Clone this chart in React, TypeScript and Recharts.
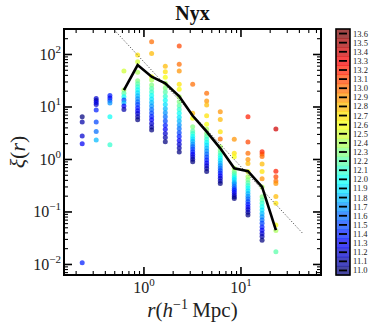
import React from "react";
import { ScatterChart, Scatter, XAxis, YAxis } from "recharts";

// pair separation bins (h^-1 Mpc)
const rBins = [0.231, 0.322, 0.446, 0.622, 0.861, 1.2, 1.66, 2.31, 3.18, 4.43, 6.12, 8.53, 11.8, 16.5, 22.9];

// log10 halo mass of each point, per r bin
const massByBin: number[][] = [
  [11.0, 11.1, 11.2, 11.3, 11.4],
  [11.2, 11.1, 11.3, 11.2, 11.4, 11.5, 11.6, 11.8],
  [11.4, 11.3, 11.5, 11.7, 12.0, 12.1],
  [12.5, 12.4, 12.2, 12.0, 11.5, 11.8, 11.3, 11.1],
  [12.7, 12.5, 12.4, 12.3, 12.2, 12.1, 12.0, 11.9, 11.8, 11.7, 11.6, 11.5, 11.4, 11.3, 11.2, 11.1, 11.0],
  [13.0, 12.8, 12.6, 12.4, 12.3, 12.2, 12.1, 12.0, 11.9, 11.8, 11.7, 11.6, 11.5, 11.4, 11.3, 11.2, 11.1, 11.0],
  [12.8, 12.7, 12.6, 12.4, 12.3, 12.2, 12.1, 12.0, 11.9, 11.8, 11.7, 11.6, 11.5, 11.4, 11.3, 11.2, 11.1, 11.0],
  [13.1, 13.0, 12.9, 12.7, 12.6, 12.4, 12.3, 12.2, 12.1, 12.0, 11.9, 11.8, 11.7, 11.6, 11.5, 11.4, 11.3, 11.2, 11.1, 11.0],
  [13.0, 12.8, 12.6, 12.3, 12.2, 12.1, 12.0, 11.9, 11.8, 11.7, 11.6, 11.5, 11.4, 11.3, 11.2, 11.1, 11.0],
  [13.0, 12.9, 12.8, 12.7, 12.6, 12.4, 12.3, 12.2, 12.1, 12.0, 11.9, 11.8, 11.7, 11.6, 11.5, 11.4, 11.3, 11.2, 11.1, 11.0],
  [12.9, 12.8, 12.7, 13.0, 12.4, 12.3, 12.2, 12.1, 12.0, 11.9, 11.8, 11.7, 11.6, 11.5, 11.4, 11.3, 11.2, 11.1, 11.0],
  [12.9, 12.7, 12.6, 12.4, 12.3, 12.2, 12.1, 12.0, 11.9, 11.8, 11.7, 11.6, 11.5, 11.4, 11.3, 11.2, 11.1, 11.0],
  [13.2, 13.1, 13.0, 12.9, 12.8, 12.6, 12.4, 12.3, 12.2, 12.1, 12.0, 11.9, 11.8, 11.7, 11.6, 11.5, 11.4, 11.3, 11.2, 11.1, 11.0],
  [13.2, 13.1, 13.0, 12.8, 12.7, 12.9, 12.4, 12.3, 12.2, 12.1, 12.0, 11.9, 11.8, 11.7, 11.6, 11.5, 11.4, 11.3, 11.2, 11.1, 11.0],
  [13.4, 13.2, 13.1, 13.0, 12.9, 12.8, 12.7, 12.6, 12.4, 12.2],
];

// xi(r) of each point, same order as massByBin
const xiByBin: number[][] = [
  [6.5, 5.2, 2.8, 2.0, 0.0108],
  [14.5, 13.3, 12.2, 11.2, 8.8, 5.2, 3.4, 2.35],
  [16.6, 14.8, 13.3, 11.9, 6.5, 1.9],
  [48.5, 21.1, 18.2, 15.7, 13.6, 12.1, 10.4, 9.0],
  [98, 73, 46, 31.7, 27.8, 24.4, 21.4, 18.7, 16.4, 14.4, 12.6, 11.1, 9.7, 8.5, 7.5, 6.5, 5.7],
  [175, 105, 37.8, 32.7, 26.3, 22.5, 19.3, 16.6, 14.2, 12.2, 10.4, 9.0, 7.7, 6.6, 5.7, 4.85, 4.16, 3.65],
  [60, 47, 36.8, 28.3, 23.0, 19.2, 16.0, 13.4, 11.2, 9.3, 7.8, 6.5, 5.4, 4.5, 3.76, 3.14, 2.62, 2.18],
  [145, 65, 48.5, 27, 21.7, 15.7, 12.6, 10.6, 9.0, 7.6, 6.4, 5.4, 4.56, 3.85, 3.24, 2.74, 2.31, 1.95, 1.65, 1.39],
  [27, 7.6, 6.1, 4.2, 3.49, 3.11, 2.78, 2.49, 2.22, 1.98, 1.77, 1.58, 1.41, 1.26, 1.13, 1.01, 0.91],
  [18.2, 13, 10.9, 6.8, 4.68, 3.76, 3.16, 2.77, 2.44, 2.14, 1.88, 1.65, 1.45, 1.27, 1.12, 0.98, 0.86, 0.76, 0.67, 0.59],
  [8.1, 5.8, 3.39, 2.46, 1.75, 1.52, 1.35, 1.21, 1.08, 0.97, 0.86, 0.77, 0.69, 0.62, 0.55, 0.49, 0.44, 0.39, 0.35],
  [2.43, 1.31, 1.13, 0.68, 0.59, 0.54, 0.49, 0.45, 0.41, 0.37, 0.34, 0.31, 0.28, 0.26, 0.235, 0.214, 0.195, 0.18],
  [6.5, 2.15, 1.31, 1.0, 0.84, 0.59, 0.47, 0.41, 0.36, 0.32, 0.285, 0.253, 0.225, 0.2, 0.178, 0.158, 0.141, 0.125, 0.111, 0.099, 0.088],
  [1.41, 1.27, 1.14, 0.82, 0.59, 0.43, 0.3, 0.195, 0.169, 0.147, 0.126, 0.109, 0.094, 0.081, 0.07, 0.061, 0.052, 0.045, 0.039, 0.034, 0.029],
  [3.81, 0.6, 0.47, 0.39, 0.35, 0.197, 0.147, 0.0565, 0.0444, 0.0175],
];

// mean relation (black line), starts at the 4th bin
const meanR = rBins.slice(3);
const meanXi = [21, 63, 37.8, 28.3, 16, 6.8, 3.39, 1.63, 0.68, 0.6, 0.3, 0.045];

// reference power law (dotted)
const plawR = [0.514, 43.3];
const plawXi = [272, 0.039];

const xTicks = [0.2, 0.3, 0.4, 0.5, 0.6, 0.7, 0.8, 0.9, 1, 2, 3, 4, 5, 6, 7, 8, 9, 10, 20, 30, 40, 50, 60];
const yTicks = [
  0.007, 0.008, 0.009, 0.01, 0.02, 0.03, 0.04, 0.05, 0.06, 0.07, 0.08, 0.09, 0.1, 0.2, 0.3, 0.4, 0.5, 0.6, 0.7,
  0.8, 0.9, 1, 2, 3, 4, 5, 6, 7, 8, 9, 10, 20, 30, 40, 50, 60, 70, 80, 90, 100, 200, 300,
];
const cbarLabels = [11.0, 11.1, 11.2, 11.3, 11.4, 11.5, 11.6, 11.7, 11.8, 11.9, 12.0, 12.1, 12.2, 12.3, 12.4, 12.5, 12.6, 12.7, 12.8, 12.9, 13.0, 13.1, 13.2, 13.3, 13.4, 13.5, 13.6];

const W = 374;
const H = 328;
const PLOT = { left: 64, top: 29, width: 257, height: 246 };
const CB = { x: 336, y: 29, w: 14, h: 246 };
const SERIF = "'Liberation Serif', 'DejaVu Serif', serif";
const ALPHA = 0.72;

function jet(m: number) {
  const t = (m - 11.0) / 2.6;
  const c = (v: number) => Math.round(255 * Math.max(0, Math.min(1, v)));
  return `rgb(${c(1.5 - Math.abs(4 * t - 3))},${c(1.5 - Math.abs(4 * t - 2))},${c(1.5 - Math.abs(4 * t - 1))})`;
}

const points = rBins.flatMap((r, i) => xiByBin[i].map((xi, j) => ({ r, xi, m: massByBin[i][j] })));
const meanData = meanR.map((r, i) => ({ r, xi: meanXi[i] }));
const plawData = plawR.map((r, i) => ({ r, xi: plawXi[i] }));

const isMajor = (v: number) => Math.abs(Math.log10(v) - Math.round(Math.log10(v))) < 1e-6;
const expLabel = (v: number) => {
  const e = Math.round(Math.log10(v));
  return e < 0 ? `\u2212${-e}` : `${e}`;
};

function XTick({ x, y, payload }: any) {
  const v = payload.value;
  const major = isMajor(v);
  const len = major ? 8 : 4;
  const sw = major ? 1.6 : 1.1;
  const top = y - PLOT.height;
  return (
    <g>
      <line x1={x} x2={x} y1={y} y2={y - len} stroke="#000" strokeWidth={sw} />
      <line x1={x} x2={x} y1={top} y2={top + len} stroke="#000" strokeWidth={sw} />
      {major && (
        <text x={x} y={y + 18} textAnchor="middle" fontFamily={SERIF} fontSize={16} fill="#222">
          10<tspan dy={-7} fontSize={11}>{expLabel(v)}</tspan>
        </text>
      )}
    </g>
  );
}

function YTick({ x, y, payload }: any) {
  const v = payload.value;
  const major = isMajor(v);
  const len = major ? 8 : 4;
  const sw = major ? 1.6 : 1.1;
  const right = x + PLOT.width;
  return (
    <g>
      <line x1={x} x2={x + len} y1={y} y2={y} stroke="#000" strokeWidth={sw} />
      <line x1={right} x2={right - len} y1={y} y2={y} stroke="#000" strokeWidth={sw} />
      {major && (
        <text x={x - 3} y={y + 5.5} textAnchor="end" fontFamily={SERIF} fontSize={16} fill="#222">
          10<tspan dy={-7} fontSize={11}>{expLabel(v)}</tspan>
        </text>
      )}
    </g>
  );
}

function Dot(p: any) {
  if (p.cx == null || p.cy == null) return <g />;
  return <circle cx={p.cx} cy={p.cy} r={2.5} fill={jet(p.payload.m)} fillOpacity={ALPHA} />;
}

export default function App() {
  const band = CB.h / cbarLabels.length;
  return (
    <div style={{ position: "absolute", left: 0, top: 0, width: W, height: H, background: "#fff" }}>
      <ScatterChart
        width={W}
        height={H}
        margin={{ top: PLOT.top, right: W - PLOT.left - PLOT.width, bottom: H - PLOT.top - PLOT.height - 30, left: PLOT.left - 40 }}
      >
        <XAxis
          dataKey="r"
          type="number"
          scale="log"
          domain={[0.15, 66.8]}
          allowDataOverflow
          ticks={xTicks}
          interval={0}
          tick={<XTick />}
          tickLine={false}
          axisLine={false}
          tickSize={0}
          tickMargin={0}
          height={30}
        />
        <YAxis
          dataKey="xi"
          type="number"
          scale="log"
          domain={[0.0063, 306]}
          allowDataOverflow
          ticks={yTicks}
          interval={0}
          tick={<YTick />}
          tickLine={false}
          axisLine={false}
          tickSize={0}
          tickMargin={0}
          width={40}
        />
        <Scatter data={points} shape={Dot} isAnimationActive={false} />
        <Scatter
          data={plawData}
          line={{ stroke: "#555", strokeWidth: 1, strokeDasharray: "1.2 1.8" }}
          shape={() => <g />}
          isAnimationActive={false}
        />
        <Scatter
          data={meanData}
          line={{ stroke: "#000", strokeWidth: 2.6 }}
          shape={() => <g />}
          isAnimationActive={false}
        />
      </ScatterChart>

      <svg width={W} height={H} style={{ position: "absolute", left: 0, top: 0, pointerEvents: "none" }}>
        <rect x={PLOT.left} y={PLOT.top} width={PLOT.width} height={PLOT.height} fill="none" stroke="#000" strokeWidth={2} />
        <text x={PLOT.left + PLOT.width / 2} y={20} textAnchor="middle" fontFamily={SERIF} fontWeight="bold" fontSize={20} fill="#111">
          Nyx
        </text>
        <text transform="rotate(-90)" x={-(PLOT.top + PLOT.height / 2)} y={25} textAnchor="middle" fontFamily={SERIF} fontSize={22} fill="#222">
          <tspan fontStyle="italic">ξ</tspan>(<tspan fontStyle="italic">r</tspan>)
        </text>
        <text x={PLOT.left + PLOT.width / 2} y={317} textAnchor="middle" fontFamily={SERIF} fontSize={21} fill="#222">
          <tspan fontStyle="italic">r</tspan>(<tspan fontStyle="italic">h</tspan>
          <tspan dy={-8} fontSize={14}>{"\u22121"}</tspan>
          <tspan dy={8}>{"\u2009Mpc)"}</tspan>
        </text>

        {cbarLabels.map((m, i) => {
          const y0 = CB.y + (cbarLabels.length - 1 - i) * band;
          return <rect key={m} x={CB.x} y={y0} width={CB.w} height={band + 0.5} fill={jet(m)} fillOpacity={ALPHA} />;
        })}
        <rect x={CB.x} y={CB.y} width={CB.w} height={CB.h} fill="none" stroke="#000" strokeWidth={1.6} />
        {cbarLabels.map((m, i) => {
          const yc = CB.y + (cbarLabels.length - 1 - i) * band + band / 2;
          return (
            <g key={m}>
              <line x1={CB.x + 3} x2={CB.x + 11} y1={yc} y2={yc} stroke="#000" strokeWidth={1.8} />
              <text x={CB.x + CB.w + 3} y={yc + 3} fontFamily={SERIF} fontSize={8.5} fill="#222">
                {m.toFixed(1)}
              </text>
            </g>
          );
        })}
      </svg>
    </div>
  );
}
